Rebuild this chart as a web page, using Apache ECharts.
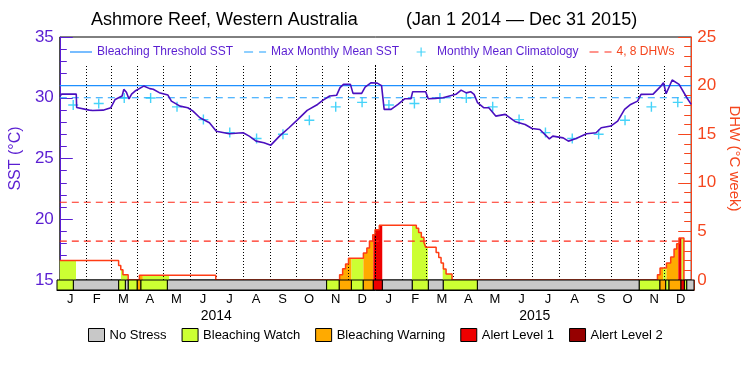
<!DOCTYPE html>
<html>
<head>
<meta charset="utf-8">
<title>Ashmore Reef, Western Australia</title>
<script src="https://cdn.jsdelivr.net/npm/echarts@6/dist/echarts.min.js"></script>
<style>
html,body{margin:0;padding:0;background:#fff;}
#chart{width:750px;height:375px;}
</style>
</head>
<body>
<div id="chart"></div>
<script>
// all x values are days counted from Jan 1 2014
var sstDays = [0, 2, 19, 19.5, 34, 38, 50, 59, 64, 72, 74, 77, 80, 83, 87, 97, 104, 108, 115, 125, 129, 139, 148, 154, 162, 173, 181, 196, 207, 212, 219, 227, 236, 244, 254, 265, 275, 286, 298, 304, 312, 320, 324, 328, 336, 339, 349, 353, 360, 367, 372, 375, 383, 391, 399, 406, 408, 423, 426, 434, 443, 458, 464, 470, 475, 479, 483, 490, 496, 504, 515, 527, 538, 546, 555, 566, 570, 582, 588, 597, 609, 620, 626, 637, 645, 653, 660, 668, 672, 686, 695, 698, 701, 708, 716, 725, 730];
var sstValues = [30.1, 30.3, 30.3, 29.2, 28.98, 28.95, 28.98, 29.18, 29.86, 30.15, 30.69, 30.45, 29.9, 30.3, 30.55, 30.96, 30.75, 30.7, 30.42, 30.22, 29.72, 29.31, 29.18, 28.9, 28.35, 27.94, 27.25, 27.04, 27.1, 27.12, 26.84, 26.43, 26.3, 26.1, 26.84, 27.53, 28.2, 28.96, 29.45, 29.78, 30.14, 30.2, 30.83, 31.1, 31.1, 30.36, 30.36, 30.88, 31.24, 31.2, 31.0, 29.04, 29.04, 29.45, 29.92, 29.92, 30.5, 30.5, 29.92, 29.95, 30.0, 30.28, 30.63, 30.4, 30.5, 30.28, 29.59, 29.18, 29.18, 28.49, 28.63, 28.02, 27.8, 27.47, 27.39, 26.62, 26.84, 26.7, 26.43, 26.65, 27.04, 27.12, 27.53, 27.67, 28.08, 29.04, 29.45, 29.72, 30.28, 30.3, 30.96, 31.24, 30.33, 31.46, 31.1, 30.0, 29.45];
var climatology = [29.4, 29.53, 29.98, 29.98, 29.25, 28.2, 27.13, 26.64, 27.0, 28.15, 29.25, 29.62];
var bleachingThreshold = 31.0;
var maxMonthlyMean = 30.0;
var dhwLevels = [4, 8];
var dhwDays = [0, 68, 70.5, 73, 79, 92, 180.3, 323.5, 327, 330.4, 333.8, 351, 355, 358, 361.8, 364.4, 369.4, 412.2, 414.9, 418, 421, 423, 435.1, 438.1, 440.8, 443.5, 446.6, 453.5, 691, 694, 701.4, 706.3, 710.2, 713.2, 715.9, 721.6];
var dhwValues = [2.0, 1.5, 1.05, 0.55, 0, 0.5, 0, 0.55, 1.15, 1.65, 2.25, 2.77, 3.28, 4.0, 4.65, 5.16, 5.64, 5.33, 4.88, 4.4, 3.86, 3.38, 2.83, 2.32, 1.74, 1.13, 0.62, 0, 0.54, 1.23, 1.74, 2.36, 3.18, 3.72, 4.31, 0];
var stressBreaks = [0, 18.7, 70.7, 78.3, 81.7, 92, 96, 126.4, 309, 323.5, 337.3, 351, 362.5, 372.8, 407.2, 425.5, 442.7, 481.7, 667.3, 691, 697.5, 701.4, 715.1, 718.9, 721.6, 730];
var stressLevel = [1, 0, 1, 0, 1, 2, 1, 0, 1, 2, 1, 2, 3, 0, 1, 0, 1, 0, 1, 2, 1, 2, 3, 1, 0];
var stressNames = ['No Stress', 'Bleaching Watch', 'Bleaching Warning', 'Alert Level 1', 'Alert Level 2'];
var monthLabels = ['J','F','M','A','M','J','J','A','S','O','N','D','J','F','M','A','M','J','J','A','S','O','N','D'];
var yearLabels = ['2014', '2015'];

var stressColors = ['#c8c8c8', '#ccff33', '#ffaa00', '#ee0000', '#960000'];
var purple = '#5a1ed2';
var dhwColor = '#f5461e';
var font = 'Liberation Sans, Arial, sans-serif';
var gridLineTop = 32.75;

var totalDays = (Date.UTC(2016, 0, 1) - Date.UTC(2014, 0, 1)) / 86400000;
var monthStarts = [];
for (var m = 0; m <= 24; m++) {
    monthStarts.push((Date.UTC(2014, m, 1) - Date.UTC(2014, 0, 1)) / 86400000);
}

function dhwAt(day) {
    var v = 0;
    for (var i = 0; i < dhwDays.length; i++) {
        if (dhwDays[i] <= day) v = dhwValues[i]; else break;
    }
    return v;
}

// area under the DHW steps, coloured by stress level
function renderFill(params, api) {
    var s = api.value(0), e = api.value(1), lv = api.value(2);
    var pts = [api.coord([s, 0]), api.coord([s, dhwAt(s)])];
    for (var i = 0; i < dhwDays.length; i++) {
        var d = dhwDays[i];
        if (d > s && d < e) {
            pts.push(api.coord([d, dhwAt(d - 0.001)]));
            pts.push(api.coord([d, dhwValues[i]]));
        }
    }
    pts.push(api.coord([e, dhwAt(e - 0.001)]));
    pts.push(api.coord([e, 0]));
    return {type: 'polygon', shape: {points: pts}, style: {fill: stressColors[lv]}};
}

function renderStress(params, api) {
    var p0 = api.coord([api.value(0), 1]);
    var p1 = api.coord([api.value(1), 0]);
    return {
        type: 'rect',
        shape: {x: p0[0], y: p0[1], width: p1[0] - p0[0], height: p1[1] - p0[1]},
        style: {fill: stressColors[api.value(2)], stroke: '#000', lineWidth: 1}
    };
}

var sstData = [];
for (var i = 0; i < sstDays.length; i++) sstData.push([sstDays[i], sstValues[i]]);
var dhwData = [];
for (var i = 0; i < dhwDays.length; i++) dhwData.push([dhwDays[i], dhwValues[i]]);
var climData = [];
for (var m = 0; m < 24; m++) climData.push([(monthStarts[m] + monthStarts[m + 1]) / 2, climatology[m % 12]]);

var fillData = [];
var stressData = [[], [], [], [], []];
for (var i = 0; i < stressLevel.length; i++) {
    var seg = [stressBreaks[i], stressBreaks[i + 1], stressLevel[i]];
    stressData[stressLevel[i]].push(seg);
    if (stressLevel[i] > 0) fillData.push(seg);
}

var monthLines = [];
for (var m = 1; m < 24; m++) {
    var first = {coord: [monthStarts[m], 15]};
    if (m == 12) first.lineStyle = {type: [2, 1]};
    monthLines.push([first, {coord: [monthStarts[m], gridLineTop]}]);
}

var solidIcon = 'path://M0,0M0,4.4H22V5.6H0ZM22,10';
var dashIcon = 'path://M0,0M0,4.4H9V5.6H0ZM15,4.4H22V5.6H15ZM22,10';
var plusIcon = 'path://M0,0M10.4,0.5H11.6V9.5H10.4ZM6.5,4.4H15.5V5.6H6.5ZM22,10';

var series = [
    {
        name: 'DHW fill', type: 'custom', xAxisIndex: 0, yAxisIndex: 1, z: 2,
        dimensions: ['start', 'end', 'level'], encode: {x: [0, 1], y: 2},
        renderItem: renderFill, data: fillData, silent: true
    },
    {
        name: 'Bleaching Threshold SST', type: 'line', xAxisIndex: 0, yAxisIndex: 0, z: 3,
        symbol: 'none', data: [[0, bleachingThreshold], [totalDays, bleachingThreshold]],
        itemStyle: {color: '#1e90ff'}, lineStyle: {color: '#1e90ff', width: 1.2}
    },
    {
        name: 'Max Monthly Mean SST', type: 'line', xAxisIndex: 0, yAxisIndex: 0, z: 3,
        symbol: 'none', data: [[0, maxMonthlyMean], [totalDays, maxMonthlyMean]],
        itemStyle: {color: '#1ea0ff'}, lineStyle: {color: '#1ea0ff', width: 1.2, type: [7, 5]},
        markLine: {
            silent: true, symbol: ['none', 'none'], label: {show: false}, animation: false,
            lineStyle: {color: '#000', width: 1, type: [1, 2]},
            data: monthLines
        }
    },
    {
        name: '4, 8 DHWs', type: 'line', xAxisIndex: 0, yAxisIndex: 1, z: 3,
        symbol: 'none', data: [[0, dhwLevels[0]], [totalDays, dhwLevels[0]]],
        itemStyle: {color: '#ff2a1a'}, lineStyle: {color: '#ff2a1a', width: 1.2, type: [7, 5]}
    },
    {
        name: '4, 8 DHWs', type: 'line', xAxisIndex: 0, yAxisIndex: 1, z: 3,
        symbol: 'none', data: [[0, dhwLevels[1]], [totalDays, dhwLevels[1]]],
        itemStyle: {color: '#ff2a1a'}, lineStyle: {color: '#ff2a1a', width: 1.2, type: [7, 5]}
    },
    {
        name: 'Monthly Mean Climatology', type: 'scatter', xAxisIndex: 0, yAxisIndex: 0, z: 4,
        symbol: 'path://M4.3,0H5.7V10H4.3ZM0,4.3H10V5.7H0Z', symbolSize: 10,
        itemStyle: {color: '#18c8f8'}, data: climData
    },
    {
        name: 'SST', type: 'line', xAxisIndex: 0, yAxisIndex: 0, z: 5,
        symbol: 'none', data: sstData,
        lineStyle: {color: '#4a0fbf', width: 1.6}
    },
    {
        name: 'DHW', type: 'line', xAxisIndex: 0, yAxisIndex: 1, z: 5,
        symbol: 'none', step: 'end', data: dhwData,
        lineStyle: {color: '#ff3c14', width: 1.5}
    }
];
for (var k = 0; k < stressNames.length; k++) {
    series.push({
        name: stressNames[k], type: 'custom', xAxisIndex: 1, yAxisIndex: 2, z: 6,
        dimensions: ['start', 'end', 'level'], encode: {x: [0, 1], y: 2},
        itemStyle: {color: stressColors[k]},
        renderItem: renderStress, data: stressData[k]
    });
}

var chart = echarts.init(document.getElementById('chart'));
var option = {
    animation: false,
    textStyle: {fontFamily: font},
    title: [
        {text: 'Ashmore Reef, Western Australia', left: 91, top: 11, padding: 0,
         textStyle: {fontSize: 18, fontWeight: 'normal', color: '#000', fontFamily: font}},
        {text: '(Jan 1 2014 \u2014 Dec 31 2015)', left: 406, top: 11, padding: 0,
         textStyle: {fontSize: 18, fontWeight: 'normal', color: '#000', fontFamily: font}}
    ],
    legend: [
        {
            left: 70, top: 46, padding: 0, itemWidth: 22, itemHeight: 10, itemGap: 11,
            selectedMode: false,
            textStyle: {fontSize: 12, color: purple, fontFamily: font},
            data: [
                {name: 'Bleaching Threshold SST', icon: solidIcon, itemStyle: {color: '#1e90ff', borderWidth: 0}},
                {name: 'Max Monthly Mean SST', icon: dashIcon, itemStyle: {color: '#1ea0ff', borderWidth: 0}},
                {name: 'Monthly Mean Climatology', icon: plusIcon, itemStyle: {color: '#18c8f8', borderWidth: 0}},
                {name: '4, 8 DHWs', icon: dashIcon, itemStyle: {color: '#ff2a1a', borderWidth: 0}, textStyle: {color: dhwColor}}
            ]
        },
        {
            left: 88, top: 328, padding: 0, itemWidth: 16, itemHeight: 13, itemGap: 15,
            selectedMode: false, icon: 'rect',
            itemStyle: {borderColor: '#000', borderWidth: 1},
            textStyle: {fontSize: 13, color: '#000', fontFamily: font},
            data: stressNames
        }
    ],
    grid: [
        {left: 57, right: 56, top: 37, height: 243, show: true, borderColor: '#000', borderWidth: 1},
        {left: 57, right: 56, top: 280, height: 10}
    ],
    xAxis: [
        {type: 'value', gridIndex: 0, min: 0, max: totalDays, show: false},
        {type: 'value', gridIndex: 1, min: 0, max: totalDays,
         axisLine: {show: true, lineStyle: {color: '#000'}}, axisTick: {show: false},
         axisLabel: {show: false}, splitLine: {show: false}},
        {type: 'category', gridIndex: 1, position: 'bottom', data: monthLabels,
         axisLine: {show: false}, axisTick: {show: false}, splitLine: {show: false},
         axisLabel: {interval: 0, margin: 3, fontSize: 13, color: '#000', fontFamily: font}},
        {type: 'category', gridIndex: 1, position: 'bottom', data: yearLabels,
         axisLine: {show: false}, axisTick: {show: false}, splitLine: {show: false},
         axisLabel: {interval: 0, margin: 19, fontSize: 14, color: '#000', fontFamily: font}}
    ],
    yAxis: [
        {
            type: 'value', gridIndex: 0, position: 'left', min: 15, max: 35, interval: 5,
            name: 'SST (\u00b0C)', nameLocation: 'middle', nameGap: 33, nameRotate: 90,
            nameTextStyle: {color: purple, fontSize: 16, fontFamily: font},
            axisLine: {show: true, lineStyle: {color: purple, width: 1}},
            axisTick: {show: true, inside: true, length: 13},
            minorTick: {show: true, splitNumber: 5, length: 7},
            axisLabel: {color: purple, fontSize: 17, margin: 6, fontFamily: font},
            splitLine: {show: false}
        },
        {
            type: 'value', gridIndex: 0, position: 'right', min: 0, max: 25, interval: 5,
            name: 'DHW (\u00b0C week)', nameLocation: 'middle', nameGap: 34, nameRotate: -90,
            nameTextStyle: {color: dhwColor, fontSize: 15, fontFamily: font},
            axisLine: {show: true, lineStyle: {color: dhwColor, width: 1}},
            axisTick: {show: true, inside: true, length: 13},
            minorTick: {show: true, splitNumber: 5, length: 7},
            axisLabel: {color: dhwColor, fontSize: 17, margin: 6, fontFamily: font},
            splitLine: {show: false}
        },
        {
            type: 'value', gridIndex: 1, position: 'left', min: 0, max: 1,
            axisLine: {show: true, lineStyle: {color: purple}}, axisTick: {show: false},
            axisLabel: {show: false}, splitLine: {show: false}
        },
        {
            type: 'value', gridIndex: 1, position: 'right', min: 0, max: 1,
            axisLine: {show: true, lineStyle: {color: dhwColor}}, axisTick: {show: false},
            axisLabel: {show: false}, splitLine: {show: false}
        }
    ],
    series: series
};
chart.setOption(option);
</script>
</body>
</html>
